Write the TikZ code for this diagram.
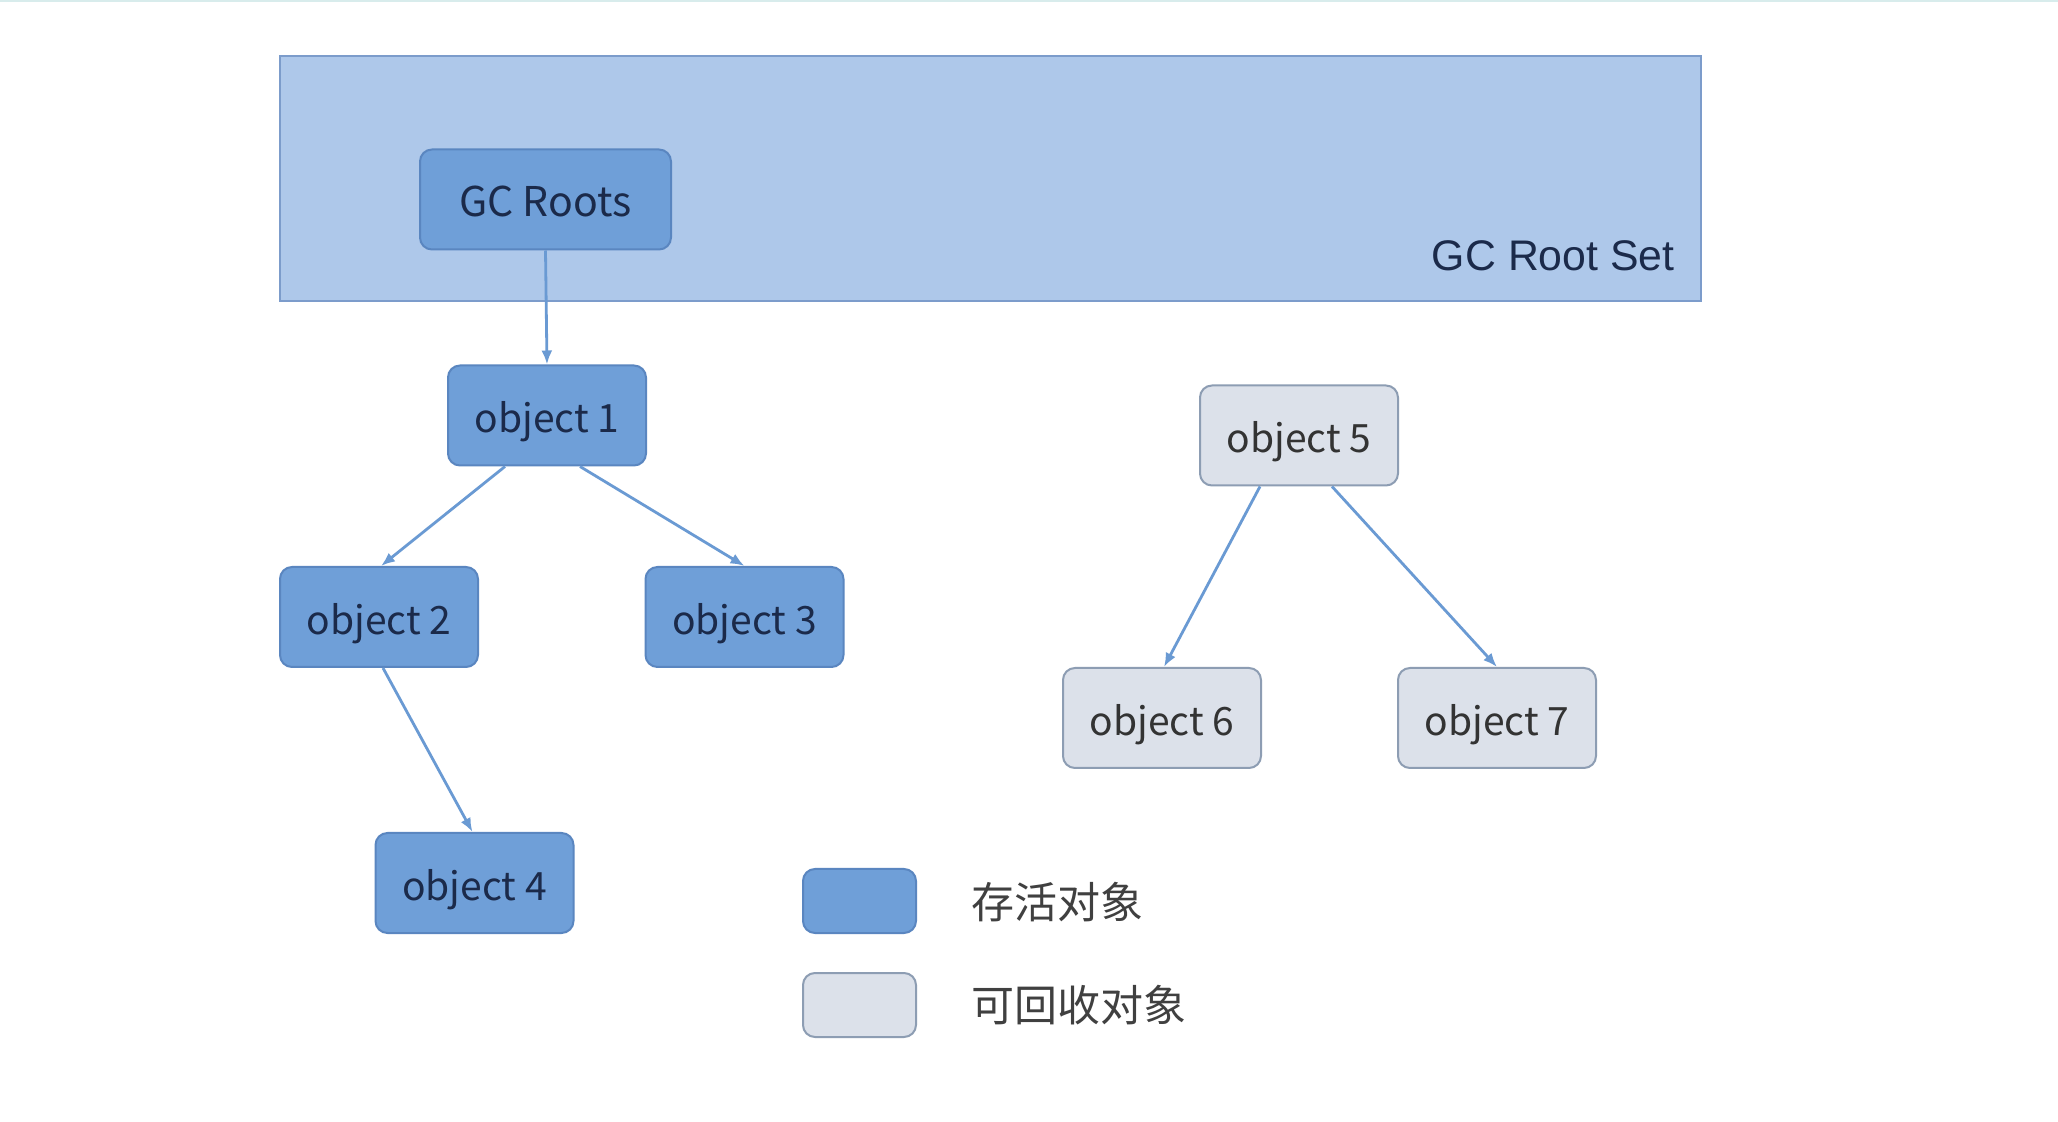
\documentclass[tikz,border=0pt]{standalone}
\usepackage{fontspec}
\newfontfamily\cjk{Noto Sans CJK SC}
\newfontfamily\arialf{Liberation Sans}
\usetikzlibrary{arrows.meta,calc}
\definecolor{setfill}{HTML}{AEC8EA}
\definecolor{setdraw}{HTML}{7C9CCB}
\definecolor{livefill}{HTML}{6F9FD8}
\definecolor{livedraw}{HTML}{5A86C0}
\definecolor{livetext}{HTML}{1B2A4A}
\definecolor{deadfill}{HTML}{DCE1EA}
\definecolor{deaddraw}{HTML}{8D9DB3}
\definecolor{deadtext}{HTML}{333333}
\definecolor{arrowc}{HTML}{6A9AD3}
\definecolor{legtext}{HTML}{404040}
\tikzset{
  live/.style={draw=livedraw, fill=livefill, line width=1pt, rounded corners=6pt,
    minimum width=99pt, minimum height=50pt, inner sep=0pt, text=livetext,
    text height=17.5pt, text depth=0pt,
    font=\cjk\fontsize{19.5}{22}\selectfont},
  dead/.style={live, draw=deaddraw, fill=deadfill, text=deadtext},
  ref/.style={draw=arrowc, line width=1.4pt, -{Latex[length=7pt,width=5.5pt]}},
  legtxt/.style={anchor=west, inner sep=0pt, text=legtext, font=\cjk\fontsize{21.5}{24}\selectfont}
}
\begin{document}
\begin{tikzpicture}[x=0.5pt,y=-0.5pt]
\path[use as bounding box, fill=white] (0,0) rectangle (2058,1122);
\draw[draw={rgb,255:red,216;green,236;blue,236}, line width=1.5pt] (0,1) -- (2058,1);
% root set
\node[draw=setdraw, fill=setfill, line width=1.2pt, minimum width=710.5pt, minimum height=122.5pt, inner sep=0pt] (set) at (990.5,178.5) {};
\node[anchor=east, inner sep=0pt, text=livetext, font=\arialf\fontsize{21.4}{24}\selectfont] (settxt) at (1675,256) {GC Root Set};
\node[live, minimum width=125.5pt, font=\cjk\fontsize{20.5}{23}\selectfont] (gc) at (545.5,199.5) {GC Roots};
% objects
\node[live] (o1) at (547,415.5) {object 1};
\node[live] (o2) at (379,617) {object 2};
\node[live] (o3) at (744.5,617) {object 3};
\node[live] (o4) at (474.5,883) {object 4};
\node[dead] (o5) at (1299,435.5) {object 5};
\node[dead] (o6) at (1162,718) {object 6};
\node[dead] (o7) at (1497,718) {object 7};
% references
\draw[ref] (gc.south) -- (o1.north);
\draw[ref] ([xshift=-21pt]o1.south) -- ([xshift=1pt]o2.north);
\draw[ref] ([xshift=16.5pt]o1.south) -- (o3.north);
\draw[ref] ([xshift=2pt]o2.south) -- ([xshift=-1pt]o4.north);
\draw[ref] ([xshift=-19.5pt]o5.south) -- ([xshift=1pt]o6.north);
\draw[ref] ([xshift=16.5pt]o5.south) -- (o7.north);
% legend
\node[live, minimum width=56.5pt, minimum height=32pt] (l1) at (859.5,901) {};
\node[dead, minimum width=56.5pt, minimum height=32pt] (l2) at (859.5,1005) {};
\node[legtxt] (t1) at (971,902) {存活对象};
\node[legtxt] (t2) at (971,1005) {可回收对象};
\end{tikzpicture}
\end{document}
